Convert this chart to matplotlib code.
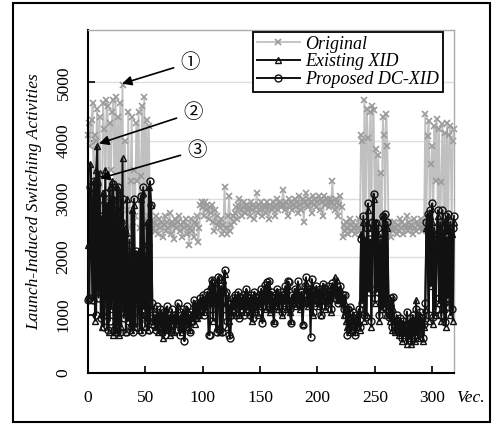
import numpy as np
import matplotlib
matplotlib.use("Agg")
import matplotlib.pyplot as plt
from matplotlib.patches import Rectangle

plt.rcParams['font.family'] = ['Liberation Serif', 'DejaVu Serif']

# switching activities per test vector
original = [
    4100, 4300, 3900, 4350, 4650, 2700, 4100, 4000, 4550, 3000,
    4400, 2600, 2900, 4650, 4200, 2500, 4700, 4600, 2800, 4300,
    3500, 4500, 4700, 2900, 4750, 2500, 4400, 2700, 4650, 3100,
    4950, 2600, 4000, 2500, 2800, 4500, 2500, 3300, 4400, 2600,
    3500, 2700, 4300, 3300, 4500, 2500, 3400, 4600, 2600, 4750,
    2500, 4350, 2700, 4250, 2600, 2450, 2500, 2600, 2450, 2700,
    2550, 2400, 2650, 2500, 2600, 2350, 2550, 2700, 2450, 2600,
    2500, 2750, 2400, 2600, 2550, 2300, 2650, 2500, 2600, 2700,
    2450, 2550, 2350, 2600, 2500, 2650, 2400, 2550, 2200, 2500,
    2650, 2450, 2350, 2600, 2550, 2700, 2250, 2500, 2900, 2950,
    2850, 2700, 2950, 2800, 2900, 2650, 2850, 2750, 2900, 2600,
    2450, 2800, 2700, 2550, 2600, 2500, 2650, 2400, 2550, 3200,
    2500, 2400, 2700, 3050, 2450, 2550, 2700, 2600, 2750, 2850,
    2650, 2900, 3000, 2800, 2700, 2850, 2950, 2750, 2900, 2800,
    2850, 2700, 2950, 2800, 2900, 2650, 2850, 3100, 2750, 2900,
    2800, 2950, 2700, 2900, 2850, 2750, 2950, 2850, 2650, 2900,
    2800, 2950, 2850, 2700, 2900, 3000, 2800, 2950, 2850, 2900,
    3150, 2900, 2800, 2950, 2700, 3000, 2850, 2950, 2800, 2900,
    3000, 2850, 2950, 2750, 3050, 2900, 2800, 3000, 2600, 2950,
    3100, 2900, 2850, 3000, 2950, 2750, 3050, 2900, 3000, 2850,
    2950, 3050, 2800, 3000, 2950, 2700, 3050, 2900, 3000, 2950,
    2850, 3000, 2950, 3300, 2900, 2800, 3000, 2950, 2700, 2900,
    3050, 2850, 2350, 2550, 2450, 2600, 2500, 2400, 2650, 2550,
    2450, 2600, 2500, 2400, 2550, 2500, 2650, 2450, 4100, 4000,
    2550, 4700, 2500, 4550, 4050, 2600, 4500, 2500, 4600, 4520,
    2550, 3850, 2600, 3750, 2500, 3450, 2650, 4400, 4100, 2550,
    4450, 3900, 2500, 2600, 2350, 2500, 2450, 2600, 2500, 2400,
    2550, 2450, 2650, 2500, 2600, 2400, 2550, 2500, 2700, 2450,
    2600, 2500, 2550, 2400, 2650, 2500, 2450, 2600, 2550, 2500,
    2650, 2450, 2500, 2550, 4450, 2600, 4080, 4330, 2550, 3600,
    3900, 2500, 4250, 3300, 4370, 2600, 4200, 2550, 3280, 4280,
    2600, 4130, 2500, 4300, 2550, 4100, 4250, 2600, 4000, 4200,
]

existing = [
    2200, 1300, 3600, 3100, 1250, 3300, 900, 3500, 3900, 1500,
    3450, 1700, 800, 3100, 1400, 3500, 1000, 2900, 700, 3200,
    1100, 3300, 650, 3000, 700, 3200, 900, 650, 3100, 800,
    3700, 1200, 2500, 700, 3000, 900, 1900, 750, 2800, 1600,
    2900, 800, 2000, 1300, 2100, 750, 3000, 1000, 3100, 1900,
    800, 2600, 750, 3200, 900, 2900, 1100, 850, 950, 800,
    1000, 700, 900, 1050, 850, 600, 950, 800, 1100, 750,
    900, 650, 1000, 850, 950, 700, 1000, 850, 1150, 900,
    800, 950, 700, 1050, 900, 850, 1100, 800, 950, 750,
    1000, 900, 1200, 850, 1000, 950, 1100, 1000, 1250, 1150,
    1300, 1050, 1250, 1100, 1350, 1200, 1500, 1200, 1600, 900,
    1400, 1550, 800, 1300, 1650, 700, 1450, 1200, 1600, 1700,
    1400, 800, 1300, 900, 1150, 1000, 1250, 1100, 1300, 1050,
    1200, 1350, 1000, 1250, 1150, 1300, 1050, 1200, 1400, 1100,
    1250, 1050, 1300, 900, 1200, 1350, 1100, 1250, 1000, 1300,
    1150, 1400, 950, 1250, 1450, 1100, 1300, 1500, 1200, 1050,
    1350, 1150, 900, 1300, 1200, 1400, 1100, 1250, 1350, 1000,
    1300, 1200, 1450, 1100, 1500, 1250, 1050, 900, 1300, 1200,
    1400, 1150, 1300, 1500, 1250, 1100, 1350, 850, 1200, 1450,
    1550, 1300, 1150, 1400, 1250, 1500, 1000, 1350, 1200, 1450,
    1300, 1150, 1400, 1000, 1350, 1500, 1250, 1100, 1300, 1450,
    1200, 1350, 1050, 1500, 1300, 1650, 1400, 1600, 1250, 1350,
    1450, 1200, 1300, 1000, 1200, 900, 800, 1050, 700, 900,
    750, 1000, 850, 700, 950, 800, 1050, 750, 2400, 1300,
    2600, 900, 2300, 1000, 2800, 1500, 2200, 800, 2500, 3000,
    1200, 2600, 1400, 2400, 900, 2200, 1100, 2700, 1800, 2600,
    1000, 2500, 1300, 900, 1200, 750, 1100, 850, 700, 950,
    800, 650, 900, 700, 550, 850, 650, 750, 500, 800,
    600, 900, 500, 700, 850, 550, 1250, 700, 600, 1000,
    750, 900, 550, 800, 1100, 2500, 2200, 900, 2700, 1500,
    2600, 850, 2400, 1000, 2200, 2700, 1200, 2500, 900, 2400,
    1100, 2600, 800, 2300, 1300, 2500, 1000, 2400, 900, 2600,
]

proposed = [
    1250, 1300, 3200, 2000, 1250, 3300, 2800, 1000, 3250, 1300,
    3000, 950, 2700, 1600, 800, 3100, 1200, 750, 2900, 900,
    3000, 1400, 3250, 750, 2800, 700, 3200, 1100, 700, 2600,
    3000, 950, 2400, 700, 2100, 1000, 2300, 800, 2000, 700,
    3000, 1200, 2100, 800, 1900, 1000, 3050, 700, 3200, 1100,
    2000, 900, 2200, 750, 3300, 2900, 1200, 900, 1000, 750,
    1150, 800, 950, 1100, 700, 850, 1050, 650, 900, 1150,
    800, 950, 700, 1100, 850, 1000, 750, 950, 1200, 850,
    650, 1000, 800, 1100, 550, 900, 1150, 850, 1000, 700,
    1050, 900, 1250, 950, 1150, 1000, 1200, 1050, 1300, 1100,
    1350, 1000, 1250, 1150, 1400, 660, 650, 1350, 1600, 1000,
    1550, 1300, 700, 1650, 1200, 750, 1500, 700, 1100, 1770,
    1400, 900, 1200, 650, 600, 1000, 1300, 1150, 1350, 1000,
    1250, 1400, 950, 1300, 1100, 1350, 1000, 1250, 1450, 1150,
    1300, 1000, 1350, 1200, 950, 1400, 1150, 1300, 1050, 1350,
    1200, 1450, 860, 1300, 1520, 1150, 1570, 1350, 1580, 1100,
    1400, 1200, 860, 1350, 1250, 1450, 1150, 1300, 1400, 1050,
    1350, 1250, 1500, 1150, 1580, 1570, 1100, 860, 1350, 1250,
    1450, 1200, 1350, 1580, 1300, 1150, 1400, 830, 1250, 1500,
    1650, 1350, 1200, 1450, 620, 1620, 1050, 1400, 1250, 1500,
    1350, 1200, 1450, 1000, 1400, 1540, 1300, 1150, 1350, 1500,
    1250, 1400, 1100, 1550, 1350, 1450, 1300, 1500, 1200, 1400,
    1500, 1250, 1350, 1100, 1350, 1000, 650, 1100, 1140, 850,
    800, 1050, 900, 650, 1000, 850, 1100, 800, 2300, 1200,
    2710, 1000, 970, 2500, 2920, 1400, 2300, 900, 2600, 3090,
    1300, 2590, 1500, 2500, 1000, 2300, 1200, 2710, 1140, 2740,
    1100, 2600, 970, 1000, 1300, 800, 1310, 900, 750, 1000,
    850, 700, 950, 750, 600, 900, 700, 800, 1060, 850,
    650, 950, 550, 1000, 900, 600, 1100, 750, 650, 1050,
    800, 950, 600, 850, 1200, 2600, 2740, 1000, 2800, 1600,
    2920, 970, 2500, 1100, 2300, 2800, 1300, 2600, 1000, 2800,
    1200, 880, 2700, 2400, 2740, 1140, 2600, 1100, 2500, 2700,
]

xticks = [0, 50, 100, 150, 200, 250, 300]
yticks = [0, 1000, 2000, 3000, 4000, 5000]

vec = np.arange(len(original))

fig = plt.figure(figsize=(4.95, 4.25), dpi=100)
ax = fig.add_axes([0.178, 0.122, 0.739, 0.807])

ax.plot(vec, original, color='#c0c0c0', lw=1.3, marker='x', ms=5,
        mec='#9a9a9a', mew=1.2, label='Original', zorder=2, clip_on=False)
ax.plot(vec, existing, color='#111111', lw=1.4, marker='^', ms=5,
        mfc='none', mec='#111111', mew=1.0, label='Existing XID', zorder=3, clip_on=False)
ax.plot(vec, proposed, color='#111111', lw=1.4, marker='o', ms=5,
        mfc='none', mec='#111111', mew=1.0, label='Proposed DC-XID', zorder=4, clip_on=False)

ax.set_xlim(0, 319)
ax.set_ylim(0, 5900)
ax.set_xticks(xticks)
ax.set_yticks(yticks)
ax.yaxis.grid(True, color='#dddddd', lw=1.0)
ax.set_axisbelow(True)
ax.tick_params(direction='in', length=5, width=1.2, labelsize=12.5, pad=12)
ax.tick_params(axis='y', labelrotation=90)
for t in ax.get_yticklabels():
    t.set_va('center')
for s in ['left', 'bottom']:
    ax.spines[s].set_linewidth(1.5)
for s in ['top', 'right']:
    ax.spines[s].set_color('#aaaaaa')
    ax.spines[s].set_linewidth(1.0)

ax.set_ylabel('Launch-Induced Switching Activities', fontsize=12.5, style='italic')
ax.yaxis.set_label_coords(-0.125, 0.5)
ax.text(1.044, -0.073, 'Vec.', transform=ax.transAxes, fontsize=12.5,
        style='italic', ha='center', va='center')

leg = ax.legend(loc='upper right', bbox_to_anchor=(0.97, 0.995), borderaxespad=0,
                fancybox=False, edgecolor='black', framealpha=1,
                prop={'style': 'italic', 'size': 13}, handlelength=2.4,
                labelspacing=0.05, borderpad=0.2, handletextpad=0.3)
leg.get_frame().set_linewidth(1.3)

arrow = dict(arrowstyle='-|>', color='black', lw=1.2, mutation_scale=14, shrinkA=3, shrinkB=0)
circ = ['Noto Sans CJK JP', 'DejaVu Sans']
ax.annotate('①', xy=(29.6, 4980), xytext=(89, 5340), fontsize=14, family=circ,
            ha='center', va='center', arrowprops=arrow)
ax.annotate('②', xy=(9.6, 3950), xytext=(91.5, 4480), fontsize=14, family=circ,
            ha='center', va='center', arrowprops=arrow)
ax.annotate('③', xy=(10.5, 3350), xytext=(95, 3830), fontsize=14, family=circ,
            ha='center', va='center', arrowprops=arrow)

fig.patches.append(Rectangle((0.027, 0.006), 0.963, 0.988, transform=fig.transFigure,
                             fill=False, edgecolor='black', lw=1.5))

fig.savefig('out.png', dpi=100)
